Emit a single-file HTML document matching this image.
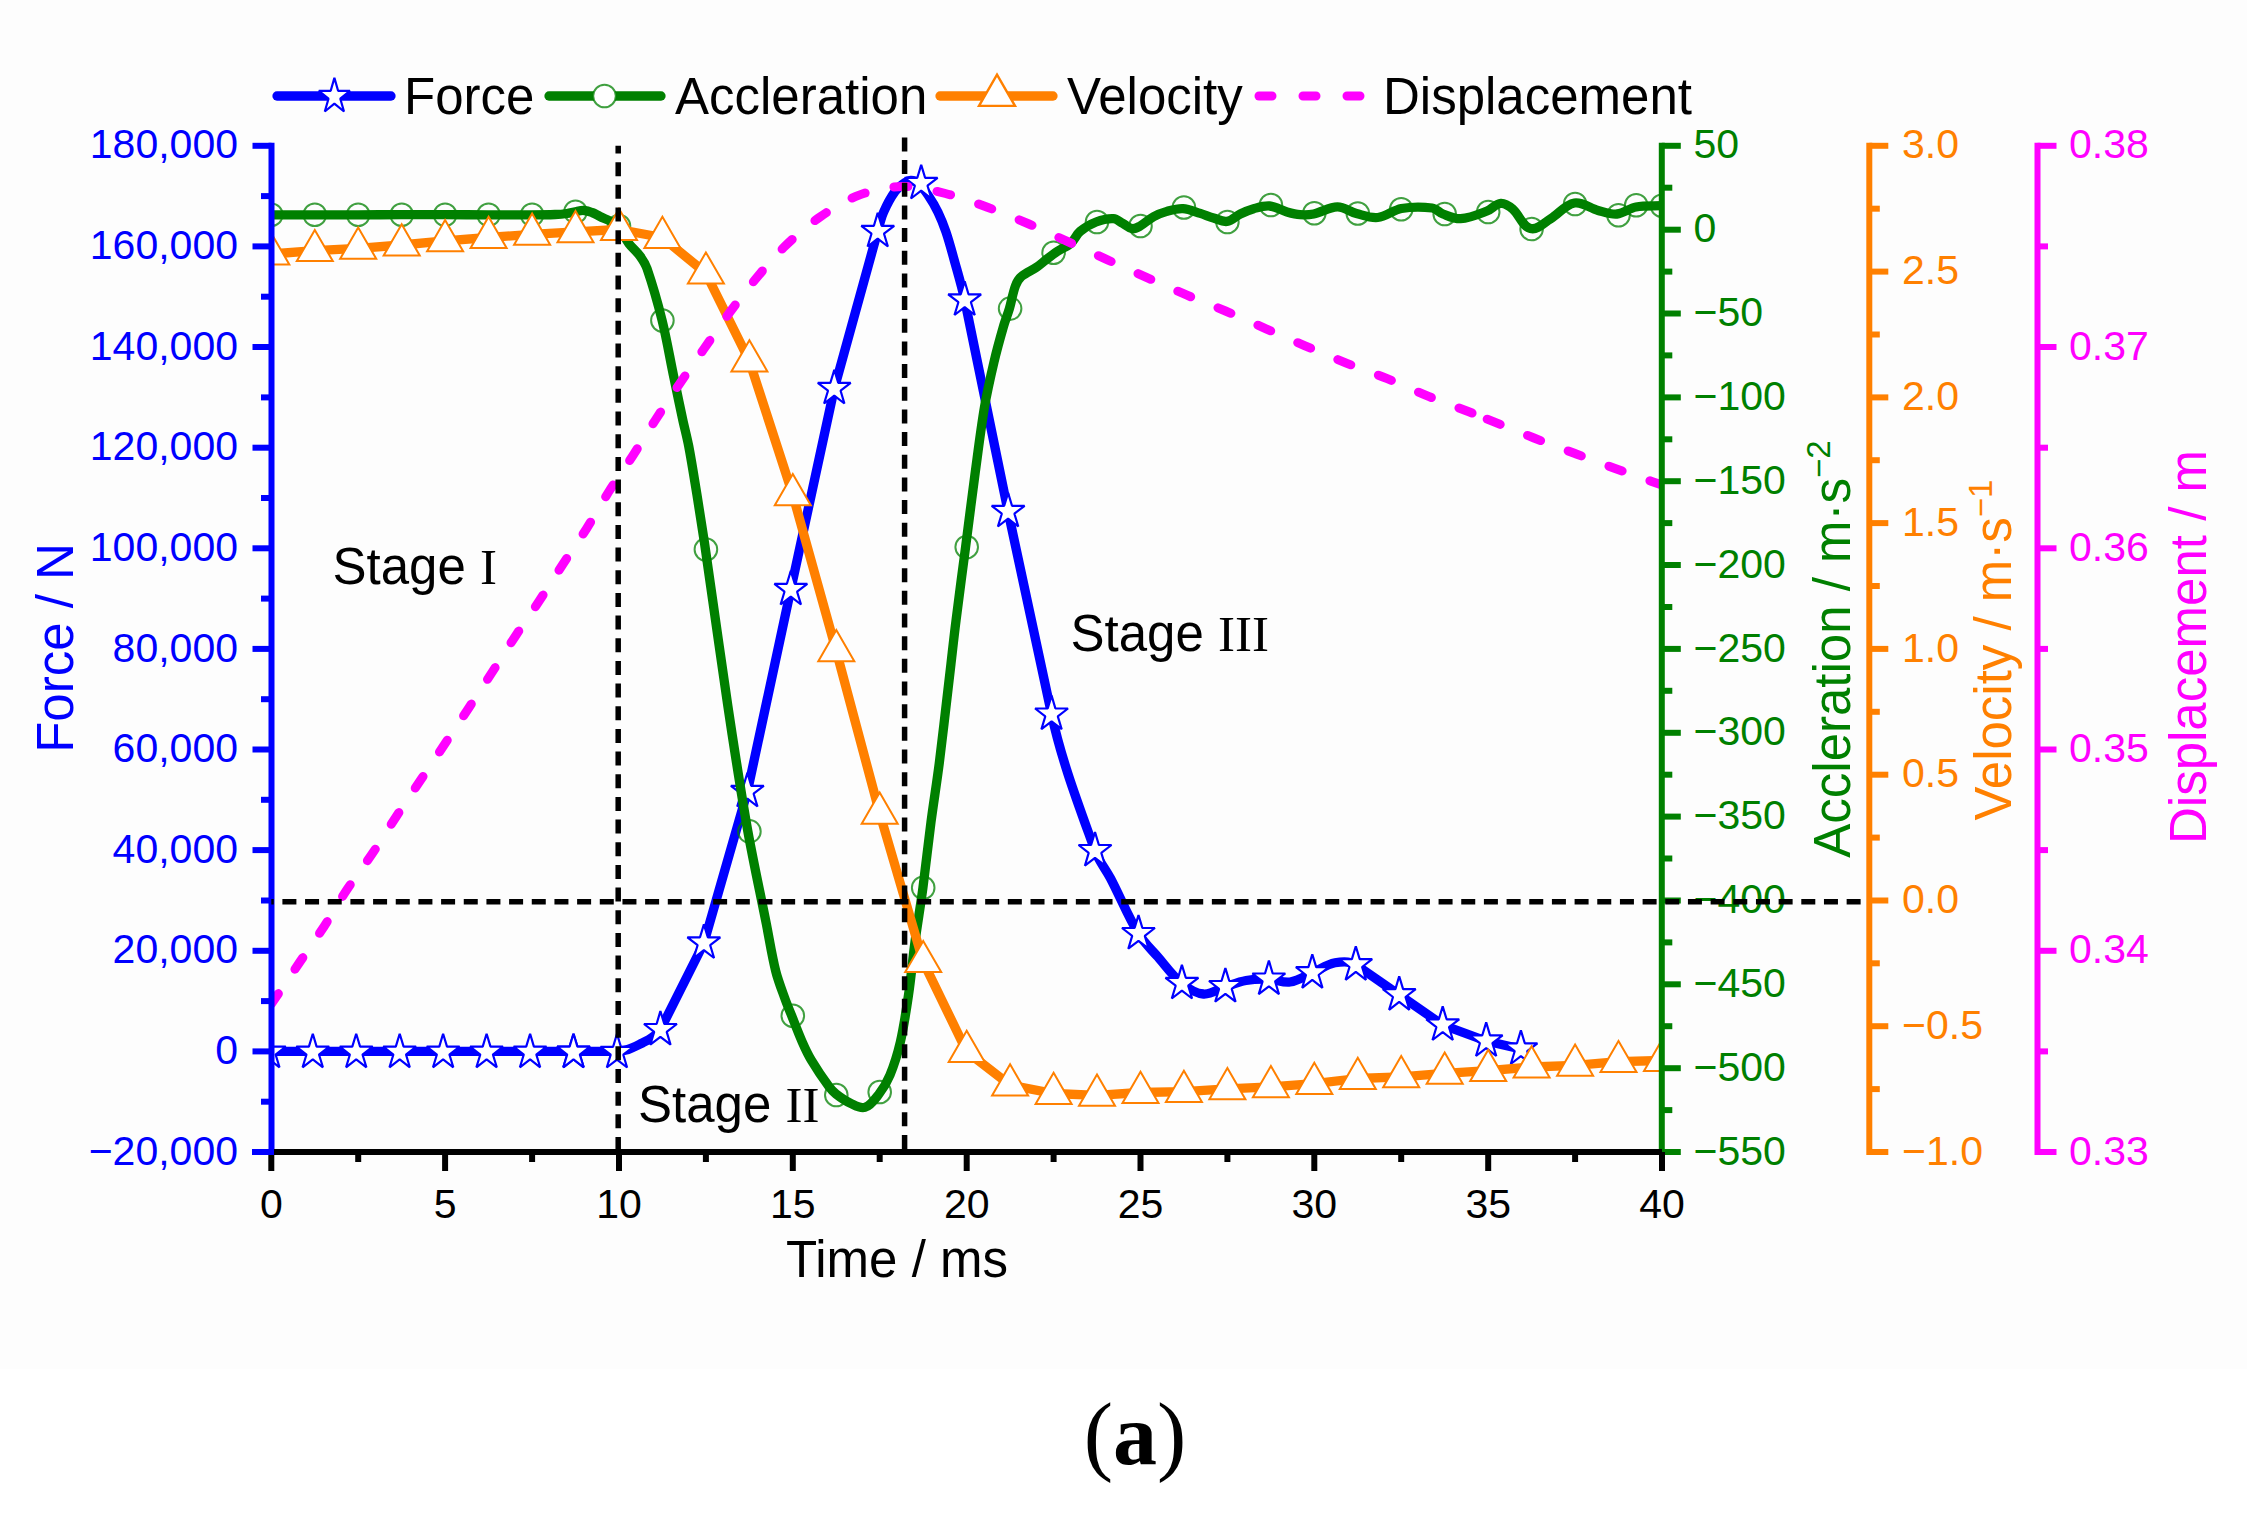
<!DOCTYPE html>
<html><head><meta charset="utf-8"><title>Force, acceleration, velocity and displacement vs time</title>
<style>html,body{margin:0;padding:0;background:#fff;}svg{display:block;}</style></head><body>
<svg width="2247" height="1519" viewBox="0 0 2247 1519">
<rect width="100%" height="100%" fill="#fff"/>
<g>
<rect width="100%" height="100%" fill="#fff"/>
<rect x="0" y="0" width="2247" height="1369" fill="#fdfdfd"/>
<defs><clipPath id="pc"><rect x="271.3" y="105.8" width="1390.7" height="1046.2"/></clipPath></defs>
<g clip-path="url(#pc)">
<path d="M271.3,1051.3 C329.2,1051.3 387.2,1051.3 445.1,1051.3 C495,1051.3 544.8,1051.4 594.6,1051.3 C602.8,1051.3 610.9,1051.4 619,1051 C622,1050.8 625.1,1050.5 628,1049.5 C633,1047.8 637.6,1045.3 642.3,1043 C645.6,1041.3 649,1039.7 652,1037.5 C655.1,1035.2 658.7,1033.1 660.4,1029.7 L703.9,943 L747.4,791.5 L790.8,589.5 L834.3,388.5 L877.7,231.5 C879.5,225 880.9,218.4 883.6,212.2 C886.7,205 890.4,197.9 895,191.5 C897.6,187.9 901.3,185 905,182.5 C906.7,181.3 908.9,180.4 911,180.5 C913.5,180.6 916.1,181.4 918,183 C922,186.4 925.1,190.7 928,195 C931.7,200.5 935.1,206.2 938,212.2 C941.1,218.6 943.7,225.3 946,232 C948.9,240.6 951.3,249.4 953.7,258.2 C957.5,272.1 961.8,285.9 964.7,300 L1008.1,511.5 L1051.6,714.2 C1061.6,760.9 1078.9,805.8 1095,850.7 C1098.6,860.7 1105.7,869.1 1110.6,878.5 C1120.2,896.8 1127.8,916.1 1138.5,933.7 C1143.7,942.4 1151.3,949.4 1158,957 C1165.8,966 1172.7,976 1181.9,983.5 C1188.1,988.5 1195.5,993.4 1203.5,994 C1211.2,994.6 1218.1,989 1225.4,986.7 C1232.2,984.5 1238.9,981.7 1246,980.5 C1253.5,979.2 1261.2,978.9 1268.9,979.2 C1276,979.4 1283,983 1290,982 C1298,980.8 1304.9,976 1312.3,972.8 C1319.9,969.6 1326.9,964.3 1335,962.8 C1341.8,961.5 1350.1,960.8 1355.8,964.8 L1399.2,994.8 L1442.7,1025 L1486.2,1041 L1520.9,1049" fill="none" stroke="#0000ff" stroke-width="9.3" stroke-linejoin="round"/>
<path d="M269.3,1033.7 L273.2,1046.6 L285.8,1046.6 L275.6,1054.5 L279.5,1067.3 L269.3,1059.4 L259.1,1067.3 L263,1054.5 L252.8,1046.6 L265.4,1046.6 Z" fill="#fff" stroke="#0000ff" stroke-width="2.2" stroke-linejoin="bevel"/>
<path d="M312.8,1033.7 L316.6,1046.6 L329.2,1046.6 L319,1054.5 L322.9,1067.3 L312.8,1059.4 L302.6,1067.3 L306.5,1054.5 L296.3,1046.6 L308.9,1046.6 Z" fill="#fff" stroke="#0000ff" stroke-width="2.2" stroke-linejoin="bevel"/>
<path d="M356.2,1033.7 L360.1,1046.6 L372.7,1046.6 L362.5,1054.5 L366.4,1067.3 L356.2,1059.4 L346.1,1067.3 L349.9,1054.5 L339.8,1046.6 L352.3,1046.6 Z" fill="#fff" stroke="#0000ff" stroke-width="2.2" stroke-linejoin="bevel"/>
<path d="M399.7,1033.7 L403.6,1046.6 L416.1,1046.6 L406,1054.5 L409.8,1067.3 L399.7,1059.4 L389.5,1067.3 L393.4,1054.5 L383.2,1046.6 L395.8,1046.6 Z" fill="#fff" stroke="#0000ff" stroke-width="2.2" stroke-linejoin="bevel"/>
<path d="M443.1,1033.7 L447,1046.6 L459.6,1046.6 L449.4,1054.5 L453.3,1067.3 L443.1,1059.4 L433,1067.3 L436.9,1054.5 L426.7,1046.6 L439.3,1046.6 Z" fill="#fff" stroke="#0000ff" stroke-width="2.2" stroke-linejoin="bevel"/>
<path d="M486.6,1033.7 L490.5,1046.6 L503,1046.6 L492.9,1054.5 L496.8,1067.3 L486.6,1059.4 L476.4,1067.3 L480.3,1054.5 L470.1,1046.6 L482.7,1046.6 Z" fill="#fff" stroke="#0000ff" stroke-width="2.2" stroke-linejoin="bevel"/>
<path d="M530.1,1033.7 L533.9,1046.6 L546.5,1046.6 L536.3,1054.5 L540.2,1067.3 L530.1,1059.4 L519.9,1067.3 L523.8,1054.5 L513.6,1046.6 L526.2,1046.6 Z" fill="#fff" stroke="#0000ff" stroke-width="2.2" stroke-linejoin="bevel"/>
<path d="M573.5,1033.7 L577.4,1046.6 L590,1046.6 L579.8,1054.5 L583.7,1067.3 L573.5,1059.4 L563.3,1067.3 L567.2,1054.5 L557.1,1046.6 L569.6,1046.6 Z" fill="#fff" stroke="#0000ff" stroke-width="2.2" stroke-linejoin="bevel"/>
<path d="M573.5,1033.7 L577.4,1046.6 L590,1046.6 L579.8,1054.5 L583.7,1067.3 L573.5,1059.4 L563.3,1067.3 L567.2,1054.5 L557.1,1046.6 L569.6,1046.6 Z" fill="#fff" stroke="#0000ff" stroke-width="2.2" stroke-linejoin="bevel"/>
<path d="M617,1033.9 L620.9,1046.8 L633.4,1046.8 L623.3,1054.7 L627.1,1067.5 L617,1059.6 L606.8,1067.5 L610.7,1054.7 L600.5,1046.8 L613.1,1046.8 Z" fill="#fff" stroke="#0000ff" stroke-width="2.2" stroke-linejoin="bevel"/>
<path d="M660.4,1011.1 L664.3,1024 L676.9,1024 L666.7,1031.9 L670.6,1044.7 L660.4,1036.8 L650.3,1044.7 L654.2,1031.9 L644,1024 L656.6,1024 Z" fill="#fff" stroke="#0000ff" stroke-width="2.2" stroke-linejoin="bevel"/>
<path d="M703.9,924.4 L707.8,937.3 L720.3,937.3 L710.2,945.2 L714.1,958 L703.9,950.1 L693.7,958 L697.6,945.2 L687.4,937.3 L700,937.3 Z" fill="#fff" stroke="#0000ff" stroke-width="2.2" stroke-linejoin="bevel"/>
<path d="M747.4,772.9 L751.2,785.8 L763.8,785.8 L753.6,793.7 L757.5,806.5 L747.4,798.6 L737.2,806.5 L741.1,793.7 L730.9,785.8 L743.5,785.8 Z" fill="#fff" stroke="#0000ff" stroke-width="2.2" stroke-linejoin="bevel"/>
<path d="M790.8,570.9 L794.7,583.8 L807.3,583.8 L797.1,591.7 L801,604.5 L790.8,596.6 L780.6,604.5 L784.5,591.7 L774.4,583.8 L786.9,583.8 Z" fill="#fff" stroke="#0000ff" stroke-width="2.2" stroke-linejoin="bevel"/>
<path d="M834.3,369.9 L838.2,382.8 L850.7,382.8 L840.6,390.7 L844.4,403.5 L834.3,395.6 L824.1,403.5 L828,390.7 L817.8,382.8 L830.4,382.8 Z" fill="#fff" stroke="#0000ff" stroke-width="2.2" stroke-linejoin="bevel"/>
<path d="M877.7,212.9 L881.6,225.8 L894.2,225.8 L884,233.7 L887.9,246.5 L877.7,238.6 L867.6,246.5 L871.5,233.7 L861.3,225.8 L873.9,225.8 Z" fill="#fff" stroke="#0000ff" stroke-width="2.2" stroke-linejoin="bevel"/>
<path d="M921.2,164.9 L925.1,177.8 L937.6,177.8 L927.5,185.7 L931.4,198.5 L921.2,190.6 L911,198.5 L914.9,185.7 L904.7,177.8 L917.3,177.8 Z" fill="#fff" stroke="#0000ff" stroke-width="2.2" stroke-linejoin="bevel"/>
<path d="M964.7,281.4 L968.5,294.3 L981.1,294.3 L970.9,302.2 L974.8,315 L964.7,307.1 L954.5,315 L958.4,302.2 L948.2,294.3 L960.8,294.3 Z" fill="#fff" stroke="#0000ff" stroke-width="2.2" stroke-linejoin="bevel"/>
<path d="M1008.1,492.9 L1012,505.8 L1024.6,505.8 L1014.4,513.7 L1018.3,526.5 L1008.1,518.6 L997.9,526.5 L1001.8,513.7 L991.7,505.8 L1004.2,505.8 Z" fill="#fff" stroke="#0000ff" stroke-width="2.2" stroke-linejoin="bevel"/>
<path d="M1051.6,695.6 L1055.4,708.5 L1068,708.5 L1057.8,716.4 L1061.7,729.2 L1051.6,721.3 L1041.4,729.2 L1045.3,716.4 L1035.1,708.5 L1047.7,708.5 Z" fill="#fff" stroke="#0000ff" stroke-width="2.2" stroke-linejoin="bevel"/>
<path d="M1095,832.1 L1098.9,845 L1111.5,845 L1101.3,852.9 L1105.2,865.7 L1095,857.8 L1084.9,865.7 L1088.7,852.9 L1078.6,845 L1091.1,845 Z" fill="#fff" stroke="#0000ff" stroke-width="2.2" stroke-linejoin="bevel"/>
<path d="M1138.5,915.1 L1142.4,928 L1154.9,928 L1144.8,935.9 L1148.7,948.7 L1138.5,940.8 L1128.3,948.7 L1132.2,935.9 L1122,928 L1134.6,928 Z" fill="#fff" stroke="#0000ff" stroke-width="2.2" stroke-linejoin="bevel"/>
<path d="M1181.9,964.9 L1185.8,977.8 L1198.4,977.8 L1188.2,985.7 L1192.1,998.5 L1181.9,990.6 L1171.8,998.5 L1175.7,985.7 L1165.5,977.8 L1178.1,977.8 Z" fill="#fff" stroke="#0000ff" stroke-width="2.2" stroke-linejoin="bevel"/>
<path d="M1225.4,968.1 L1229.3,981 L1241.9,981 L1231.7,988.9 L1235.6,1001.7 L1225.4,993.8 L1215.2,1001.7 L1219.1,988.9 L1209,981 L1221.5,981 Z" fill="#fff" stroke="#0000ff" stroke-width="2.2" stroke-linejoin="bevel"/>
<path d="M1268.9,960.6 L1272.7,973.5 L1285.3,973.5 L1275.1,981.4 L1279,994.2 L1268.9,986.3 L1258.7,994.2 L1262.6,981.4 L1252.4,973.5 L1265,973.5 Z" fill="#fff" stroke="#0000ff" stroke-width="2.2" stroke-linejoin="bevel"/>
<path d="M1312.3,954.2 L1316.2,967.1 L1328.8,967.1 L1318.6,975 L1322.5,987.8 L1312.3,979.9 L1302.2,987.8 L1306,975 L1295.9,967.1 L1308.4,967.1 Z" fill="#fff" stroke="#0000ff" stroke-width="2.2" stroke-linejoin="bevel"/>
<path d="M1355.8,946.2 L1359.7,959.1 L1372.2,959.1 L1362.1,967 L1366,979.8 L1355.8,971.9 L1345.6,979.8 L1349.5,967 L1339.3,959.1 L1351.9,959.1 Z" fill="#fff" stroke="#0000ff" stroke-width="2.2" stroke-linejoin="bevel"/>
<path d="M1399.2,976.2 L1403.1,989.1 L1415.7,989.1 L1405.5,997 L1409.4,1009.8 L1399.2,1001.9 L1389.1,1009.8 L1393,997 L1382.8,989.1 L1395.4,989.1 Z" fill="#fff" stroke="#0000ff" stroke-width="2.2" stroke-linejoin="bevel"/>
<path d="M1442.7,1006.4 L1446.6,1019.3 L1459.2,1019.3 L1449,1027.2 L1452.9,1040 L1442.7,1032.1 L1432.5,1040 L1436.4,1027.2 L1426.3,1019.3 L1438.8,1019.3 Z" fill="#fff" stroke="#0000ff" stroke-width="2.2" stroke-linejoin="bevel"/>
<path d="M1486.2,1022.4 L1490,1035.3 L1502.6,1035.3 L1492.4,1043.2 L1496.3,1056 L1486.2,1048.1 L1476,1056 L1479.9,1043.2 L1469.7,1035.3 L1482.3,1035.3 Z" fill="#fff" stroke="#0000ff" stroke-width="2.2" stroke-linejoin="bevel"/>
<path d="M1520.9,1030.4 L1524.8,1043.3 L1537.4,1043.3 L1527.2,1051.2 L1531.1,1064 L1520.9,1056.1 L1510.8,1064 L1514.7,1051.2 L1504.5,1043.3 L1517,1043.3 Z" fill="#fff" stroke="#0000ff" stroke-width="2.2" stroke-linejoin="bevel"/>
<path d="M271.3,214.8 C285.9,214.8 300.4,214.8 315,214.8 C329.3,214.8 343.7,214.8 358,214.8 C372.3,214.8 386.7,214.7 401,214.7 C415.7,214.7 430.3,214.7 445,214.7 C459.3,214.7 473.7,214.8 488,214.8 C502.3,214.8 516.7,214.9 531,214.8 C539,214.8 547,214.8 555,214.5 C559,214.4 563,214.1 567,213.5 C570,213.1 573,212 576,211.5 C578.6,211 581.3,210.3 584,210.5 C586.7,210.7 589.4,211.5 592,212.5 C594.8,213.5 597.3,215.2 600,216.5 C603.3,218.1 606.8,219.3 610,221 C612.8,222.5 616,223.6 618,226 C622.5,231.3 624.9,238.1 629,243.7 C632.3,248.1 636.8,251.5 640,256 C642.8,259.9 645.4,264 647,268.5 C652.8,285.4 657.7,302.6 662,320 C666.7,338.8 669.8,358 673.8,377 C676.8,391.3 679.7,405.7 682.8,420 C684.7,428.7 687,437.3 688.7,446 C691.8,462.3 694.3,478.6 697,495 C699.6,511 702.1,527 704.5,543 C709.5,576.9 714.1,610.8 719,644.7 C723.3,674.5 727.5,704.4 732.1,734.2 C737.1,766.7 742.1,799.2 747.9,831.6 C753.5,862.4 760.2,893 766.3,923.7 C769.4,939.5 771.8,955.4 775.7,971 C778,980.2 781.5,989.1 784.7,998 C786.8,1004 789.3,1009.8 791.7,1015.7 C795.2,1024.6 798.5,1033.6 802.4,1042.3 C805.1,1048.4 807.9,1054.4 811.3,1060.1 C816.8,1069.3 822.8,1078.2 829.1,1086.8 C831.1,1089.5 833.4,1092 836,1094 C840.4,1097.4 845,1100.7 850,1103 C854.7,1105.2 859.9,1108.9 864.8,1107.4 C871,1105.5 875,1099.1 879,1094 C883.5,1088.2 887.2,1081.8 890,1075 C894.4,1064.4 897.7,1053.4 900.3,1042.3 C903.9,1026.7 906.2,1010.8 908.5,995 C911.1,977.4 912.6,959.6 915,942 C917.4,924 920.5,906 922.9,888 C925.8,866 928.1,844 931,822 C933.6,802.3 936.8,782.7 939.3,763 C943.4,730.2 947,697.3 950.9,664.5 C952.6,649.7 954.2,634.8 956.1,620 C959.1,595.7 962.4,571.3 965.6,547 C968.8,522.5 971.8,497.9 975.1,473.4 C978.1,451.2 980.8,429 984.5,407 C987.1,391.9 990.5,376.9 994,362 C996.8,350 1000.1,338.2 1003.5,326.4 C1005.2,320.4 1007.6,314.6 1009.4,308.6 C1011.6,301.1 1012.7,293.3 1015.4,286 C1016.7,282.5 1018.5,279.1 1021.3,276.6 C1025.8,272.6 1031.7,270.5 1036.7,267.1 C1040,264.9 1042.9,262.2 1046,259.8 C1049.8,256.9 1053.5,254 1057.4,251.4 C1061.7,248.5 1066.9,246.8 1070.8,243.4 C1074.6,240.1 1076.2,234.7 1080.1,231.4 C1084.8,227.4 1090.3,224.2 1096.1,222 C1101.6,219.9 1107.6,218.4 1113.5,218.7 C1117,218.9 1119.7,221.8 1122.8,223.4 C1126,225.1 1128.6,228.2 1132.2,228.7 C1135,229.1 1137.7,227.4 1140.2,226 C1144.9,223.3 1148.8,219.3 1153.5,216.7 C1157.7,214.4 1162.3,212.7 1166.9,211.4 C1172.1,210 1177.5,208.4 1182.9,208.7 C1188.9,209.1 1194.6,211.7 1200.3,213.4 C1204.8,214.8 1209.1,216.7 1213.6,218 C1218,219.3 1222.4,222.1 1227,221.4 C1232,220.6 1235.7,216.2 1240.3,214 C1244.6,211.9 1249.1,210 1253.7,208.7 C1258.9,207.3 1264.3,205.5 1269.7,206 C1275.8,206.6 1281.1,210.3 1287,212 C1291.3,213.2 1295.6,214.4 1300,214.7 C1304.6,215 1309.2,214.9 1313.7,214 C1321.8,212.3 1329.2,207 1337.4,206.9 C1344.1,206.8 1349.9,211.8 1356.4,213.5 C1363.4,215.3 1370.5,218.3 1377.7,217.5 C1386.1,216.6 1393.1,210 1401.4,208.5 C1411.5,206.7 1422,206.7 1432.2,208 C1436.3,208.5 1439.1,212.5 1443,214 C1448.7,216.1 1454.5,219.1 1460.6,218.7 C1469.7,218.1 1478.4,214.3 1487,211 C1491.9,209.1 1495.6,203.7 1500.9,203.3 C1505.3,203 1509.4,206.2 1512.7,209 C1519.4,214.7 1522,226.3 1530.5,228.5 C1537.8,230.4 1544.2,222.5 1550.7,218.7 C1558.9,213.9 1565.1,204.6 1574.4,203 C1582.5,201.6 1590,208.3 1598,210.4 C1604.2,212 1610.6,214.6 1617,214 C1623.7,213.4 1629.4,208.2 1636,207 C1644.5,205.4 1653.3,206.1 1662,205.7" fill="none" stroke="#008000" stroke-width="9.3" stroke-linejoin="round"/>
<circle cx="271.3" cy="214.7" r="11.3" fill="none" stroke="#008000" stroke-width="2" stroke-opacity="0.75"/>
<circle cx="314.8" cy="214.7" r="11.3" fill="none" stroke="#008000" stroke-width="2" stroke-opacity="0.75"/>
<circle cx="358.2" cy="214.7" r="11.3" fill="none" stroke="#008000" stroke-width="2" stroke-opacity="0.75"/>
<circle cx="401.7" cy="214.7" r="11.3" fill="none" stroke="#008000" stroke-width="2" stroke-opacity="0.75"/>
<circle cx="445.1" cy="214.7" r="11.3" fill="none" stroke="#008000" stroke-width="2" stroke-opacity="0.75"/>
<circle cx="488.6" cy="214.7" r="11.3" fill="none" stroke="#008000" stroke-width="2" stroke-opacity="0.75"/>
<circle cx="532.1" cy="214.7" r="11.3" fill="none" stroke="#008000" stroke-width="2" stroke-opacity="0.75"/>
<circle cx="575.5" cy="211.7" r="11.3" fill="none" stroke="#008000" stroke-width="2" stroke-opacity="0.75"/>
<circle cx="619" cy="226" r="11.3" fill="none" stroke="#008000" stroke-width="2" stroke-opacity="0.75"/>
<circle cx="662.4" cy="320.5" r="11.3" fill="none" stroke="#008000" stroke-width="2" stroke-opacity="0.75"/>
<circle cx="705.9" cy="549.5" r="11.3" fill="none" stroke="#008000" stroke-width="2" stroke-opacity="0.75"/>
<circle cx="749.4" cy="831.4" r="11.3" fill="none" stroke="#008000" stroke-width="2" stroke-opacity="0.75"/>
<circle cx="792.8" cy="1015.7" r="11.3" fill="none" stroke="#008000" stroke-width="2" stroke-opacity="0.75"/>
<circle cx="836.3" cy="1095" r="11.3" fill="none" stroke="#008000" stroke-width="2" stroke-opacity="0.75"/>
<circle cx="879.7" cy="1092" r="11.3" fill="none" stroke="#008000" stroke-width="2" stroke-opacity="0.75"/>
<circle cx="923.2" cy="887.7" r="11.3" fill="none" stroke="#008000" stroke-width="2" stroke-opacity="0.75"/>
<circle cx="966.7" cy="547" r="11.3" fill="none" stroke="#008000" stroke-width="2" stroke-opacity="0.75"/>
<circle cx="1010.1" cy="308.6" r="11.3" fill="none" stroke="#008000" stroke-width="2" stroke-opacity="0.75"/>
<circle cx="1053.6" cy="252.7" r="11.3" fill="none" stroke="#008000" stroke-width="2" stroke-opacity="0.75"/>
<circle cx="1097" cy="222" r="11.3" fill="none" stroke="#008000" stroke-width="2" stroke-opacity="0.75"/>
<circle cx="1140.5" cy="226" r="11.3" fill="none" stroke="#008000" stroke-width="2" stroke-opacity="0.75"/>
<circle cx="1183.9" cy="207.5" r="11.3" fill="none" stroke="#008000" stroke-width="2" stroke-opacity="0.75"/>
<circle cx="1227.4" cy="222" r="11.3" fill="none" stroke="#008000" stroke-width="2" stroke-opacity="0.75"/>
<circle cx="1270.9" cy="205" r="11.3" fill="none" stroke="#008000" stroke-width="2" stroke-opacity="0.75"/>
<circle cx="1314.3" cy="213.2" r="11.3" fill="none" stroke="#008000" stroke-width="2" stroke-opacity="0.75"/>
<circle cx="1357.8" cy="213.5" r="11.3" fill="none" stroke="#008000" stroke-width="2" stroke-opacity="0.75"/>
<circle cx="1401.2" cy="209.2" r="11.3" fill="none" stroke="#008000" stroke-width="2" stroke-opacity="0.75"/>
<circle cx="1444.7" cy="214" r="11.3" fill="none" stroke="#008000" stroke-width="2" stroke-opacity="0.75"/>
<circle cx="1488.2" cy="212" r="11.3" fill="none" stroke="#008000" stroke-width="2" stroke-opacity="0.75"/>
<circle cx="1531.6" cy="229" r="11.3" fill="none" stroke="#008000" stroke-width="2" stroke-opacity="0.75"/>
<circle cx="1575.1" cy="204" r="11.3" fill="none" stroke="#008000" stroke-width="2" stroke-opacity="0.75"/>
<circle cx="1618.5" cy="215.3" r="11.3" fill="none" stroke="#008000" stroke-width="2" stroke-opacity="0.75"/>
<circle cx="1636.2" cy="205.3" r="11.3" fill="none" stroke="#008000" stroke-width="2" stroke-opacity="0.75"/>
<circle cx="1662" cy="205.7" r="11.3" fill="none" stroke="#008000" stroke-width="2" stroke-opacity="0.75"/>
<polyline points="271.3,254 314.8,250.7 358.2,248.3 401.7,245 445.1,240.9 488.6,237.5 532.1,234.3 575.5,231.8 619,229.5 662.4,237.5 705.9,273.2 749.4,361 792.8,494.8 836.3,650.9 879.7,813.3 923.2,961.7 966.7,1051.5 1010.1,1085.1 1053.6,1093.5 1097,1095.4 1140.5,1092.5 1183.9,1091.6 1227.4,1088.8 1270.9,1086.9 1314.3,1083.6 1357.8,1078.5 1401.2,1076.8 1444.7,1073.3 1488.2,1070.6 1531.6,1067 1575.1,1065.3 1618.5,1061.7 1662,1060.5" fill="none" stroke="#ff8000" stroke-width="9.3" stroke-linejoin="round"/>
<path d="M271.3,233.2 L289.3,264.4 L253.3,264.4 Z" fill="#fff" stroke="#ff8000" stroke-width="2"/>
<path d="M314.8,229.9 L332.8,261.1 L296.8,261.1 Z" fill="#fff" stroke="#ff8000" stroke-width="2"/>
<path d="M358.2,227.5 L376.2,258.7 L340.2,258.7 Z" fill="#fff" stroke="#ff8000" stroke-width="2"/>
<path d="M401.7,224.2 L419.7,255.4 L383.7,255.4 Z" fill="#fff" stroke="#ff8000" stroke-width="2"/>
<path d="M445.1,220.1 L463.1,251.3 L427.1,251.3 Z" fill="#fff" stroke="#ff8000" stroke-width="2"/>
<path d="M488.6,216.7 L506.6,247.9 L470.6,247.9 Z" fill="#fff" stroke="#ff8000" stroke-width="2"/>
<path d="M532.1,213.5 L550.1,244.7 L514.1,244.7 Z" fill="#fff" stroke="#ff8000" stroke-width="2"/>
<path d="M575.5,211 L593.5,242.2 L557.5,242.2 Z" fill="#fff" stroke="#ff8000" stroke-width="2"/>
<path d="M619,208.7 L637,239.9 L601,239.9 Z" fill="#fff" stroke="#ff8000" stroke-width="2"/>
<path d="M662.4,216.7 L680.4,247.9 L644.4,247.9 Z" fill="#fff" stroke="#ff8000" stroke-width="2"/>
<path d="M705.9,252.4 L723.9,283.6 L687.9,283.6 Z" fill="#fff" stroke="#ff8000" stroke-width="2"/>
<path d="M749.4,340.2 L767.4,371.4 L731.4,371.4 Z" fill="#fff" stroke="#ff8000" stroke-width="2"/>
<path d="M792.8,474 L810.8,505.2 L774.8,505.2 Z" fill="#fff" stroke="#ff8000" stroke-width="2"/>
<path d="M836.3,630.1 L854.3,661.3 L818.3,661.3 Z" fill="#fff" stroke="#ff8000" stroke-width="2"/>
<path d="M879.7,792.5 L897.7,823.7 L861.7,823.7 Z" fill="#fff" stroke="#ff8000" stroke-width="2"/>
<path d="M923.2,940.9 L941.2,972.1 L905.2,972.1 Z" fill="#fff" stroke="#ff8000" stroke-width="2"/>
<path d="M966.7,1030.7 L984.7,1061.9 L948.7,1061.9 Z" fill="#fff" stroke="#ff8000" stroke-width="2"/>
<path d="M1010.1,1064.3 L1028.1,1095.5 L992.1,1095.5 Z" fill="#fff" stroke="#ff8000" stroke-width="2"/>
<path d="M1053.6,1072.7 L1071.6,1103.9 L1035.6,1103.9 Z" fill="#fff" stroke="#ff8000" stroke-width="2"/>
<path d="M1097,1074.6 L1115,1105.8 L1079,1105.8 Z" fill="#fff" stroke="#ff8000" stroke-width="2"/>
<path d="M1140.5,1071.7 L1158.5,1102.9 L1122.5,1102.9 Z" fill="#fff" stroke="#ff8000" stroke-width="2"/>
<path d="M1183.9,1070.8 L1201.9,1102 L1165.9,1102 Z" fill="#fff" stroke="#ff8000" stroke-width="2"/>
<path d="M1227.4,1068 L1245.4,1099.2 L1209.4,1099.2 Z" fill="#fff" stroke="#ff8000" stroke-width="2"/>
<path d="M1270.9,1066.1 L1288.9,1097.3 L1252.9,1097.3 Z" fill="#fff" stroke="#ff8000" stroke-width="2"/>
<path d="M1314.3,1062.8 L1332.3,1094 L1296.3,1094 Z" fill="#fff" stroke="#ff8000" stroke-width="2"/>
<path d="M1357.8,1057.7 L1375.8,1088.9 L1339.8,1088.9 Z" fill="#fff" stroke="#ff8000" stroke-width="2"/>
<path d="M1401.2,1056 L1419.2,1087.2 L1383.2,1087.2 Z" fill="#fff" stroke="#ff8000" stroke-width="2"/>
<path d="M1444.7,1052.5 L1462.7,1083.7 L1426.7,1083.7 Z" fill="#fff" stroke="#ff8000" stroke-width="2"/>
<path d="M1488.2,1049.8 L1506.2,1081 L1470.2,1081 Z" fill="#fff" stroke="#ff8000" stroke-width="2"/>
<path d="M1531.6,1046.2 L1549.6,1077.4 L1513.6,1077.4 Z" fill="#fff" stroke="#ff8000" stroke-width="2"/>
<path d="M1575.1,1044.5 L1593.1,1075.7 L1557.1,1075.7 Z" fill="#fff" stroke="#ff8000" stroke-width="2"/>
<path d="M1618.5,1040.9 L1636.5,1072.1 L1600.5,1072.1 Z" fill="#fff" stroke="#ff8000" stroke-width="2"/>
<path d="M1662,1039.7 L1680,1070.9 L1644,1070.9 Z" fill="#fff" stroke="#ff8000" stroke-width="2"/>
<path d="M271.3,1004 C280.8,990 290.4,975.9 299.9,961.9 C308,950.1 316.3,938.4 324.1,926.4 C332.2,914 339.3,901.1 347.5,888.8 C355.3,877 364.1,865.8 372,854.1 C380.3,841.7 388.1,829 396.3,816.5 C404.5,803.9 413,791.5 421.3,779 C429.2,767.2 437.2,755.3 445.1,743.5 C453.1,731.6 461,719.7 468.9,707.7 C476.7,695.9 484.5,684 492.2,672.1 C499.9,660.2 507.4,648.2 515.2,636.4 C523,624.6 531.2,613.1 539,601.3 C547,589.1 554.7,576.7 562.7,564.5 C570.5,552.5 578.8,540.8 586.5,528.7 C594.1,516.6 601,504.1 608.6,492 C616.2,480 624.5,468.4 632.3,456.5 C640,444.6 647.3,432.5 655,420.6 C662.8,408.6 670.8,396.8 678.8,385 C686.9,373.1 695.2,361.3 703.5,349.5 C712.3,337 720.9,324.3 730,312 C739,299.9 748.1,287.9 757.8,276.4 C766.6,265.9 775.5,255.3 785.4,245.8 C796.3,235.4 807.6,225.5 820,217 C832.1,208.6 844.7,200.5 858.5,195.4 C872.4,190.2 887.2,186.8 902,186.5 C916.7,186.2 931.2,190 945.4,193.5 C959.7,197 973.6,202.2 987.4,207.3 C1001.4,212.4 1015.2,218.1 1028.9,224 C1042.2,229.7 1055.2,235.9 1068.4,241.9 C1081.3,247.8 1094.1,253.7 1107,259.6 C1120.1,265.6 1133.2,271.5 1146.4,277.4 C1159.9,283.4 1173.4,289.4 1187,295.2 C1199.8,300.6 1212.7,305.6 1225.5,311 C1239.1,316.8 1252.5,322.9 1266,328.8 C1278.8,334.4 1291.6,340.1 1304.5,345.6 C1318.6,351.6 1332.7,357.6 1346.9,363.3 C1360.3,368.6 1373.9,373.3 1387.2,378.7 C1401.1,384.3 1414.7,390.8 1428.6,396.4 C1441.9,401.8 1455.5,406.6 1468.9,411.8 C1473,413.4 1477,415 1481,416.7" fill="none" stroke="#ff00ff" stroke-width="9" stroke-dasharray="14.0 29.5" stroke-dashoffset="1.42" stroke-linecap="round"/>
<path d="M1481,416.7 C1498.7,423.8 1516.3,431 1534,438 C1547.4,443.3 1560.9,448.2 1574.4,453.3 C1588.2,458.5 1602,463.7 1615.8,468.7 C1631.2,474.3 1646.6,479.6 1662,485" fill="none" stroke="#ff00ff" stroke-width="9" stroke-dasharray="14.0 29.5" stroke-dashoffset="36.82" stroke-linecap="round"/>
</g>
<line x1="271.5" y1="142.8" x2="271.5" y2="1155" stroke="#0000ff" stroke-width="6.0"/>
<line x1="271.5" y1="1152" x2="252.5" y2="1152" stroke="#0000ff" stroke-width="6.0"/>
<line x1="271.5" y1="1051.4" x2="252.5" y2="1051.4" stroke="#0000ff" stroke-width="6.0"/>
<line x1="271.5" y1="950.8" x2="252.5" y2="950.8" stroke="#0000ff" stroke-width="6.0"/>
<line x1="271.5" y1="850.1" x2="252.5" y2="850.1" stroke="#0000ff" stroke-width="6.0"/>
<line x1="271.5" y1="749.5" x2="252.5" y2="749.5" stroke="#0000ff" stroke-width="6.0"/>
<line x1="271.5" y1="648.9" x2="252.5" y2="648.9" stroke="#0000ff" stroke-width="6.0"/>
<line x1="271.5" y1="548.3" x2="252.5" y2="548.3" stroke="#0000ff" stroke-width="6.0"/>
<line x1="271.5" y1="447.7" x2="252.5" y2="447.7" stroke="#0000ff" stroke-width="6.0"/>
<line x1="271.5" y1="347" x2="252.5" y2="347" stroke="#0000ff" stroke-width="6.0"/>
<line x1="271.5" y1="246.4" x2="252.5" y2="246.4" stroke="#0000ff" stroke-width="6.0"/>
<line x1="271.5" y1="145.8" x2="252.5" y2="145.8" stroke="#0000ff" stroke-width="6.0"/>
<line x1="271.5" y1="1101.7" x2="261" y2="1101.7" stroke="#0000ff" stroke-width="6.0"/>
<line x1="271.5" y1="1001.1" x2="261" y2="1001.1" stroke="#0000ff" stroke-width="6.0"/>
<line x1="271.5" y1="900.5" x2="261" y2="900.5" stroke="#0000ff" stroke-width="6.0"/>
<line x1="271.5" y1="799.8" x2="261" y2="799.8" stroke="#0000ff" stroke-width="6.0"/>
<line x1="271.5" y1="699.2" x2="261" y2="699.2" stroke="#0000ff" stroke-width="6.0"/>
<line x1="271.5" y1="598.6" x2="261" y2="598.6" stroke="#0000ff" stroke-width="6.0"/>
<line x1="271.5" y1="498" x2="261" y2="498" stroke="#0000ff" stroke-width="6.0"/>
<line x1="271.5" y1="397.4" x2="261" y2="397.4" stroke="#0000ff" stroke-width="6.0"/>
<line x1="271.5" y1="296.7" x2="261" y2="296.7" stroke="#0000ff" stroke-width="6.0"/>
<line x1="271.5" y1="196.1" x2="261" y2="196.1" stroke="#0000ff" stroke-width="6.0"/>
<text x="238" y="1164.6" fill="#0000ff" font-family="'Liberation Sans', Arial, sans-serif" font-size="41" text-anchor="end">−20,000</text>
<text x="238" y="1064" fill="#0000ff" font-family="'Liberation Sans', Arial, sans-serif" font-size="41" text-anchor="end">0</text>
<text x="238" y="963.4" fill="#0000ff" font-family="'Liberation Sans', Arial, sans-serif" font-size="41" text-anchor="end">20,000</text>
<text x="238" y="862.7" fill="#0000ff" font-family="'Liberation Sans', Arial, sans-serif" font-size="41" text-anchor="end">40,000</text>
<text x="238" y="762.1" fill="#0000ff" font-family="'Liberation Sans', Arial, sans-serif" font-size="41" text-anchor="end">60,000</text>
<text x="238" y="661.5" fill="#0000ff" font-family="'Liberation Sans', Arial, sans-serif" font-size="41" text-anchor="end">80,000</text>
<text x="238" y="560.9" fill="#0000ff" font-family="'Liberation Sans', Arial, sans-serif" font-size="41" text-anchor="end">100,000</text>
<text x="238" y="460.3" fill="#0000ff" font-family="'Liberation Sans', Arial, sans-serif" font-size="41" text-anchor="end">120,000</text>
<text x="238" y="359.6" fill="#0000ff" font-family="'Liberation Sans', Arial, sans-serif" font-size="41" text-anchor="end">140,000</text>
<text x="238" y="259" fill="#0000ff" font-family="'Liberation Sans', Arial, sans-serif" font-size="41" text-anchor="end">160,000</text>
<text x="238" y="158.4" fill="#0000ff" font-family="'Liberation Sans', Arial, sans-serif" font-size="41" text-anchor="end">180,000</text>
<line x1="1661.8" y1="142.8" x2="1661.8" y2="1155" stroke="#008000" stroke-width="6.0"/>
<line x1="1661.8" y1="1152" x2="1680.8" y2="1152" stroke="#008000" stroke-width="6.0"/>
<line x1="1661.8" y1="1068.2" x2="1680.8" y2="1068.2" stroke="#008000" stroke-width="6.0"/>
<line x1="1661.8" y1="984.3" x2="1680.8" y2="984.3" stroke="#008000" stroke-width="6.0"/>
<line x1="1661.8" y1="900.5" x2="1680.8" y2="900.5" stroke="#008000" stroke-width="6.0"/>
<line x1="1661.8" y1="816.6" x2="1680.8" y2="816.6" stroke="#008000" stroke-width="6.0"/>
<line x1="1661.8" y1="732.8" x2="1680.8" y2="732.8" stroke="#008000" stroke-width="6.0"/>
<line x1="1661.8" y1="648.9" x2="1680.8" y2="648.9" stroke="#008000" stroke-width="6.0"/>
<line x1="1661.8" y1="565" x2="1680.8" y2="565" stroke="#008000" stroke-width="6.0"/>
<line x1="1661.8" y1="481.2" x2="1680.8" y2="481.2" stroke="#008000" stroke-width="6.0"/>
<line x1="1661.8" y1="397.4" x2="1680.8" y2="397.4" stroke="#008000" stroke-width="6.0"/>
<line x1="1661.8" y1="313.5" x2="1680.8" y2="313.5" stroke="#008000" stroke-width="6.0"/>
<line x1="1661.8" y1="229.7" x2="1680.8" y2="229.7" stroke="#008000" stroke-width="6.0"/>
<line x1="1661.8" y1="145.8" x2="1680.8" y2="145.8" stroke="#008000" stroke-width="6.0"/>
<line x1="1661.8" y1="1110.1" x2="1672.3" y2="1110.1" stroke="#008000" stroke-width="6.0"/>
<line x1="1661.8" y1="1026.2" x2="1672.3" y2="1026.2" stroke="#008000" stroke-width="6.0"/>
<line x1="1661.8" y1="942.4" x2="1672.3" y2="942.4" stroke="#008000" stroke-width="6.0"/>
<line x1="1661.8" y1="858.5" x2="1672.3" y2="858.5" stroke="#008000" stroke-width="6.0"/>
<line x1="1661.8" y1="774.7" x2="1672.3" y2="774.7" stroke="#008000" stroke-width="6.0"/>
<line x1="1661.8" y1="690.8" x2="1672.3" y2="690.8" stroke="#008000" stroke-width="6.0"/>
<line x1="1661.8" y1="607" x2="1672.3" y2="607" stroke="#008000" stroke-width="6.0"/>
<line x1="1661.8" y1="523.1" x2="1672.3" y2="523.1" stroke="#008000" stroke-width="6.0"/>
<line x1="1661.8" y1="439.3" x2="1672.3" y2="439.3" stroke="#008000" stroke-width="6.0"/>
<line x1="1661.8" y1="355.4" x2="1672.3" y2="355.4" stroke="#008000" stroke-width="6.0"/>
<line x1="1661.8" y1="271.6" x2="1672.3" y2="271.6" stroke="#008000" stroke-width="6.0"/>
<line x1="1661.8" y1="187.7" x2="1672.3" y2="187.7" stroke="#008000" stroke-width="6.0"/>
<text x="1693.5" y="1164.6" fill="#008000" font-family="'Liberation Sans', Arial, sans-serif" font-size="41" text-anchor="start">−550</text>
<text x="1693.5" y="1080.8" fill="#008000" font-family="'Liberation Sans', Arial, sans-serif" font-size="41" text-anchor="start">−500</text>
<text x="1693.5" y="996.9" fill="#008000" font-family="'Liberation Sans', Arial, sans-serif" font-size="41" text-anchor="start">−450</text>
<text x="1693.5" y="913.1" fill="#008000" font-family="'Liberation Sans', Arial, sans-serif" font-size="41" text-anchor="start">−400</text>
<text x="1693.5" y="829.2" fill="#008000" font-family="'Liberation Sans', Arial, sans-serif" font-size="41" text-anchor="start">−350</text>
<text x="1693.5" y="745.4" fill="#008000" font-family="'Liberation Sans', Arial, sans-serif" font-size="41" text-anchor="start">−300</text>
<text x="1693.5" y="661.5" fill="#008000" font-family="'Liberation Sans', Arial, sans-serif" font-size="41" text-anchor="start">−250</text>
<text x="1693.5" y="577.6" fill="#008000" font-family="'Liberation Sans', Arial, sans-serif" font-size="41" text-anchor="start">−200</text>
<text x="1693.5" y="493.8" fill="#008000" font-family="'Liberation Sans', Arial, sans-serif" font-size="41" text-anchor="start">−150</text>
<text x="1693.5" y="410" fill="#008000" font-family="'Liberation Sans', Arial, sans-serif" font-size="41" text-anchor="start">−100</text>
<text x="1693.5" y="326.1" fill="#008000" font-family="'Liberation Sans', Arial, sans-serif" font-size="41" text-anchor="start">−50</text>
<text x="1693.5" y="242.2" fill="#008000" font-family="'Liberation Sans', Arial, sans-serif" font-size="41" text-anchor="start">0</text>
<text x="1693.5" y="158.4" fill="#008000" font-family="'Liberation Sans', Arial, sans-serif" font-size="41" text-anchor="start">50</text>
<line x1="1869.3" y1="142.8" x2="1869.3" y2="1155" stroke="#ff8000" stroke-width="6.0"/>
<line x1="1869.3" y1="145.8" x2="1888.3" y2="145.8" stroke="#ff8000" stroke-width="6.0"/>
<line x1="1869.3" y1="271.6" x2="1888.3" y2="271.6" stroke="#ff8000" stroke-width="6.0"/>
<line x1="1869.3" y1="397.4" x2="1888.3" y2="397.4" stroke="#ff8000" stroke-width="6.0"/>
<line x1="1869.3" y1="523.1" x2="1888.3" y2="523.1" stroke="#ff8000" stroke-width="6.0"/>
<line x1="1869.3" y1="648.9" x2="1888.3" y2="648.9" stroke="#ff8000" stroke-width="6.0"/>
<line x1="1869.3" y1="774.7" x2="1888.3" y2="774.7" stroke="#ff8000" stroke-width="6.0"/>
<line x1="1869.3" y1="900.5" x2="1888.3" y2="900.5" stroke="#ff8000" stroke-width="6.0"/>
<line x1="1869.3" y1="1026.2" x2="1888.3" y2="1026.2" stroke="#ff8000" stroke-width="6.0"/>
<line x1="1869.3" y1="1152" x2="1888.3" y2="1152" stroke="#ff8000" stroke-width="6.0"/>
<line x1="1869.3" y1="208.7" x2="1879.8" y2="208.7" stroke="#ff8000" stroke-width="6.0"/>
<line x1="1869.3" y1="334.5" x2="1879.8" y2="334.5" stroke="#ff8000" stroke-width="6.0"/>
<line x1="1869.3" y1="460.2" x2="1879.8" y2="460.2" stroke="#ff8000" stroke-width="6.0"/>
<line x1="1869.3" y1="586" x2="1879.8" y2="586" stroke="#ff8000" stroke-width="6.0"/>
<line x1="1869.3" y1="711.8" x2="1879.8" y2="711.8" stroke="#ff8000" stroke-width="6.0"/>
<line x1="1869.3" y1="837.6" x2="1879.8" y2="837.6" stroke="#ff8000" stroke-width="6.0"/>
<line x1="1869.3" y1="963.3" x2="1879.8" y2="963.3" stroke="#ff8000" stroke-width="6.0"/>
<line x1="1869.3" y1="1089.1" x2="1879.8" y2="1089.1" stroke="#ff8000" stroke-width="6.0"/>
<text x="1902" y="158.4" fill="#ff8000" font-family="'Liberation Sans', Arial, sans-serif" font-size="41" text-anchor="start">3.0</text>
<text x="1902" y="284.2" fill="#ff8000" font-family="'Liberation Sans', Arial, sans-serif" font-size="41" text-anchor="start">2.5</text>
<text x="1902" y="410" fill="#ff8000" font-family="'Liberation Sans', Arial, sans-serif" font-size="41" text-anchor="start">2.0</text>
<text x="1902" y="535.7" fill="#ff8000" font-family="'Liberation Sans', Arial, sans-serif" font-size="41" text-anchor="start">1.5</text>
<text x="1902" y="661.5" fill="#ff8000" font-family="'Liberation Sans', Arial, sans-serif" font-size="41" text-anchor="start">1.0</text>
<text x="1902" y="787.3" fill="#ff8000" font-family="'Liberation Sans', Arial, sans-serif" font-size="41" text-anchor="start">0.5</text>
<text x="1902" y="913.1" fill="#ff8000" font-family="'Liberation Sans', Arial, sans-serif" font-size="41" text-anchor="start">0.0</text>
<text x="1902" y="1038.8" fill="#ff8000" font-family="'Liberation Sans', Arial, sans-serif" font-size="41" text-anchor="start">−0.5</text>
<text x="1902" y="1164.6" fill="#ff8000" font-family="'Liberation Sans', Arial, sans-serif" font-size="41" text-anchor="start">−1.0</text>
<line x1="2037.5" y1="142.8" x2="2037.5" y2="1155" stroke="#ff00ff" stroke-width="6.0"/>
<line x1="2037.5" y1="145.8" x2="2056.5" y2="145.8" stroke="#ff00ff" stroke-width="6.0"/>
<line x1="2037.5" y1="347" x2="2056.5" y2="347" stroke="#ff00ff" stroke-width="6.0"/>
<line x1="2037.5" y1="548.3" x2="2056.5" y2="548.3" stroke="#ff00ff" stroke-width="6.0"/>
<line x1="2037.5" y1="749.5" x2="2056.5" y2="749.5" stroke="#ff00ff" stroke-width="6.0"/>
<line x1="2037.5" y1="950.8" x2="2056.5" y2="950.8" stroke="#ff00ff" stroke-width="6.0"/>
<line x1="2037.5" y1="1152" x2="2056.5" y2="1152" stroke="#ff00ff" stroke-width="6.0"/>
<line x1="2037.5" y1="246.4" x2="2048" y2="246.4" stroke="#ff00ff" stroke-width="6.0"/>
<line x1="2037.5" y1="447.7" x2="2048" y2="447.7" stroke="#ff00ff" stroke-width="6.0"/>
<line x1="2037.5" y1="648.9" x2="2048" y2="648.9" stroke="#ff00ff" stroke-width="6.0"/>
<line x1="2037.5" y1="850.1" x2="2048" y2="850.1" stroke="#ff00ff" stroke-width="6.0"/>
<line x1="2037.5" y1="1051.4" x2="2048" y2="1051.4" stroke="#ff00ff" stroke-width="6.0"/>
<text x="2069" y="158.4" fill="#ff00ff" font-family="'Liberation Sans', Arial, sans-serif" font-size="41" text-anchor="start">0.38</text>
<text x="2069" y="359.6" fill="#ff00ff" font-family="'Liberation Sans', Arial, sans-serif" font-size="41" text-anchor="start">0.37</text>
<text x="2069" y="560.9" fill="#ff00ff" font-family="'Liberation Sans', Arial, sans-serif" font-size="41" text-anchor="start">0.36</text>
<text x="2069" y="762.1" fill="#ff00ff" font-family="'Liberation Sans', Arial, sans-serif" font-size="41" text-anchor="start">0.35</text>
<text x="2069" y="963.4" fill="#ff00ff" font-family="'Liberation Sans', Arial, sans-serif" font-size="41" text-anchor="start">0.34</text>
<text x="2069" y="1164.6" fill="#ff00ff" font-family="'Liberation Sans', Arial, sans-serif" font-size="41" text-anchor="start">0.33</text>
<line x1="268.3" y1="1152" x2="1662" y2="1152" stroke="#000" stroke-width="6.0"/>
<line x1="271.3" y1="1152" x2="271.3" y2="1171" stroke="#000" stroke-width="6.0"/>
<text x="271.3" y="1218" fill="#000" font-family="'Liberation Sans', Arial, sans-serif" font-size="41" text-anchor="middle">0</text>
<line x1="445.1" y1="1152" x2="445.1" y2="1171" stroke="#000" stroke-width="6.0"/>
<text x="445.1" y="1218" fill="#000" font-family="'Liberation Sans', Arial, sans-serif" font-size="41" text-anchor="middle">5</text>
<line x1="619" y1="1152" x2="619" y2="1171" stroke="#000" stroke-width="6.0"/>
<text x="619" y="1218" fill="#000" font-family="'Liberation Sans', Arial, sans-serif" font-size="41" text-anchor="middle">10</text>
<line x1="792.8" y1="1152" x2="792.8" y2="1171" stroke="#000" stroke-width="6.0"/>
<text x="792.8" y="1218" fill="#000" font-family="'Liberation Sans', Arial, sans-serif" font-size="41" text-anchor="middle">15</text>
<line x1="966.7" y1="1152" x2="966.7" y2="1171" stroke="#000" stroke-width="6.0"/>
<text x="966.7" y="1218" fill="#000" font-family="'Liberation Sans', Arial, sans-serif" font-size="41" text-anchor="middle">20</text>
<line x1="1140.5" y1="1152" x2="1140.5" y2="1171" stroke="#000" stroke-width="6.0"/>
<text x="1140.5" y="1218" fill="#000" font-family="'Liberation Sans', Arial, sans-serif" font-size="41" text-anchor="middle">25</text>
<line x1="1314.3" y1="1152" x2="1314.3" y2="1171" stroke="#000" stroke-width="6.0"/>
<text x="1314.3" y="1218" fill="#000" font-family="'Liberation Sans', Arial, sans-serif" font-size="41" text-anchor="middle">30</text>
<line x1="1488.2" y1="1152" x2="1488.2" y2="1171" stroke="#000" stroke-width="6.0"/>
<text x="1488.2" y="1218" fill="#000" font-family="'Liberation Sans', Arial, sans-serif" font-size="41" text-anchor="middle">35</text>
<line x1="1662" y1="1152" x2="1662" y2="1171" stroke="#000" stroke-width="6.0"/>
<text x="1662" y="1218" fill="#000" font-family="'Liberation Sans', Arial, sans-serif" font-size="41" text-anchor="middle">40</text>
<line x1="358.2" y1="1152" x2="358.2" y2="1162" stroke="#000" stroke-width="6.0"/>
<line x1="532.1" y1="1152" x2="532.1" y2="1162" stroke="#000" stroke-width="6.0"/>
<line x1="705.9" y1="1152" x2="705.9" y2="1162" stroke="#000" stroke-width="6.0"/>
<line x1="879.7" y1="1152" x2="879.7" y2="1162" stroke="#000" stroke-width="6.0"/>
<line x1="1053.6" y1="1152" x2="1053.6" y2="1162" stroke="#000" stroke-width="6.0"/>
<line x1="1227.4" y1="1152" x2="1227.4" y2="1162" stroke="#000" stroke-width="6.0"/>
<line x1="1401.2" y1="1152" x2="1401.2" y2="1162" stroke="#000" stroke-width="6.0"/>
<line x1="1575.1" y1="1152" x2="1575.1" y2="1162" stroke="#000" stroke-width="6.0"/>
<line x1="252" y1="1152" x2="274" y2="1152" stroke="#0000ff" stroke-width="6.0"/>
<text x="897" y="1276.5" fill="#000" font-family="'Liberation Sans', Arial, sans-serif" font-size="51" text-anchor="middle">Time / ms</text>
<text transform="translate(72.5,648) rotate(-90)" fill="#0000ff" font-family="'Liberation Sans', Arial, sans-serif" font-size="51" text-anchor="middle">Force / N</text>
<text transform="translate(1849.5,649) rotate(-90)" fill="#008000" font-family="'Liberation Sans', Arial, sans-serif" font-size="51" text-anchor="middle">Accleration / m·s<tspan font-size="33" dy="-19.5">−2</tspan></text>
<text transform="translate(2011,650) rotate(-90)" fill="#ff8000" font-family="'Liberation Sans', Arial, sans-serif" font-size="51" text-anchor="middle">Velocity / m·s<tspan font-size="33" dy="-19.5">−1</tspan></text>
<text transform="translate(2206,647) rotate(-90)" fill="#ff00ff" font-family="'Liberation Sans', Arial, sans-serif" font-size="51" text-anchor="middle">Displacement / m</text>
<line x1="618.2" y1="145.8" x2="618.2" y2="1152" stroke="#000" stroke-width="5.5" stroke-dasharray="14 8.67" stroke-dashoffset="6.3"/>
<line x1="904.6" y1="137.4" x2="904.6" y2="1152" stroke="#000" stroke-width="5.5" stroke-dasharray="14 8.67" stroke-dashoffset="0"/>
<line x1="271.3" y1="901.7" x2="1861" y2="901.7" stroke="#000" stroke-width="5.5" stroke-dasharray="14 8.67" stroke-dashoffset="11.57"/>
<text x="332.5" y="584.2" fill="#000" font-family="'Liberation Sans', Arial, sans-serif" font-size="51">Stage <tspan font-family="'Liberation Serif', 'Times New Roman', serif">I</tspan></text>
<text x="638" y="1122.4" fill="#000" font-family="'Liberation Sans', Arial, sans-serif" font-size="51">Stage <tspan font-family="'Liberation Serif', 'Times New Roman', serif">II</tspan></text>
<text x="1070.5" y="651.2" fill="#000" font-family="'Liberation Sans', Arial, sans-serif" font-size="51">Stage <tspan font-family="'Liberation Serif', 'Times New Roman', serif">III</tspan></text>
<line x1="277" y1="96" x2="391" y2="96" stroke="#0000ff" stroke-width="9.3" stroke-linecap="round"/>
<path d="M334.4,77.9 L338.1,90.8 L350,90.8 L340.3,98.7 L344,111.5 L334.4,103.6 L324.8,111.5 L328.5,98.7 L318.8,90.8 L330.7,90.8 Z" fill="#fff" stroke="#0000ff" stroke-width="2.2" stroke-linejoin="bevel"/>
<text x="404" y="113.5" fill="#000" font-family="'Liberation Sans', Arial, sans-serif" font-size="51">Force</text>
<line x1="549" y1="96" x2="661" y2="96" stroke="#008000" stroke-width="9.3" stroke-linecap="round"/>
<circle cx="604.5" cy="96" r="11.3" fill="#fff" stroke="#008000" stroke-width="2" stroke-opacity="0.75"/>
<text x="675" y="113.5" fill="#000" font-family="'Liberation Sans', Arial, sans-serif" font-size="51">Accleration</text>
<line x1="940" y1="96" x2="1053" y2="96" stroke="#ff8000" stroke-width="9.3" stroke-linecap="round"/>
<path d="M997,74.7 L1015,105.9 L979,105.9 Z" fill="#fff" stroke="#ff8000" stroke-width="2.4"/>
<text x="1067" y="113.5" fill="#000" font-family="'Liberation Sans', Arial, sans-serif" font-size="51">Velocity</text>
<line x1="1259" y1="96" x2="1380" y2="96" stroke="#ff00ff" stroke-width="9" stroke-dasharray="13 31" stroke-linecap="round"/>
<text x="1383" y="113.5" fill="#000" font-family="'Liberation Sans', Arial, sans-serif" font-size="51">Displacement</text>
<text x="1135" y="1463.7" fill="#000" font-family="'Liberation Serif', 'Times New Roman', serif" font-size="88" text-anchor="middle">(<tspan font-weight="bold">a</tspan>)</text>
</g>
</svg></body></html>
